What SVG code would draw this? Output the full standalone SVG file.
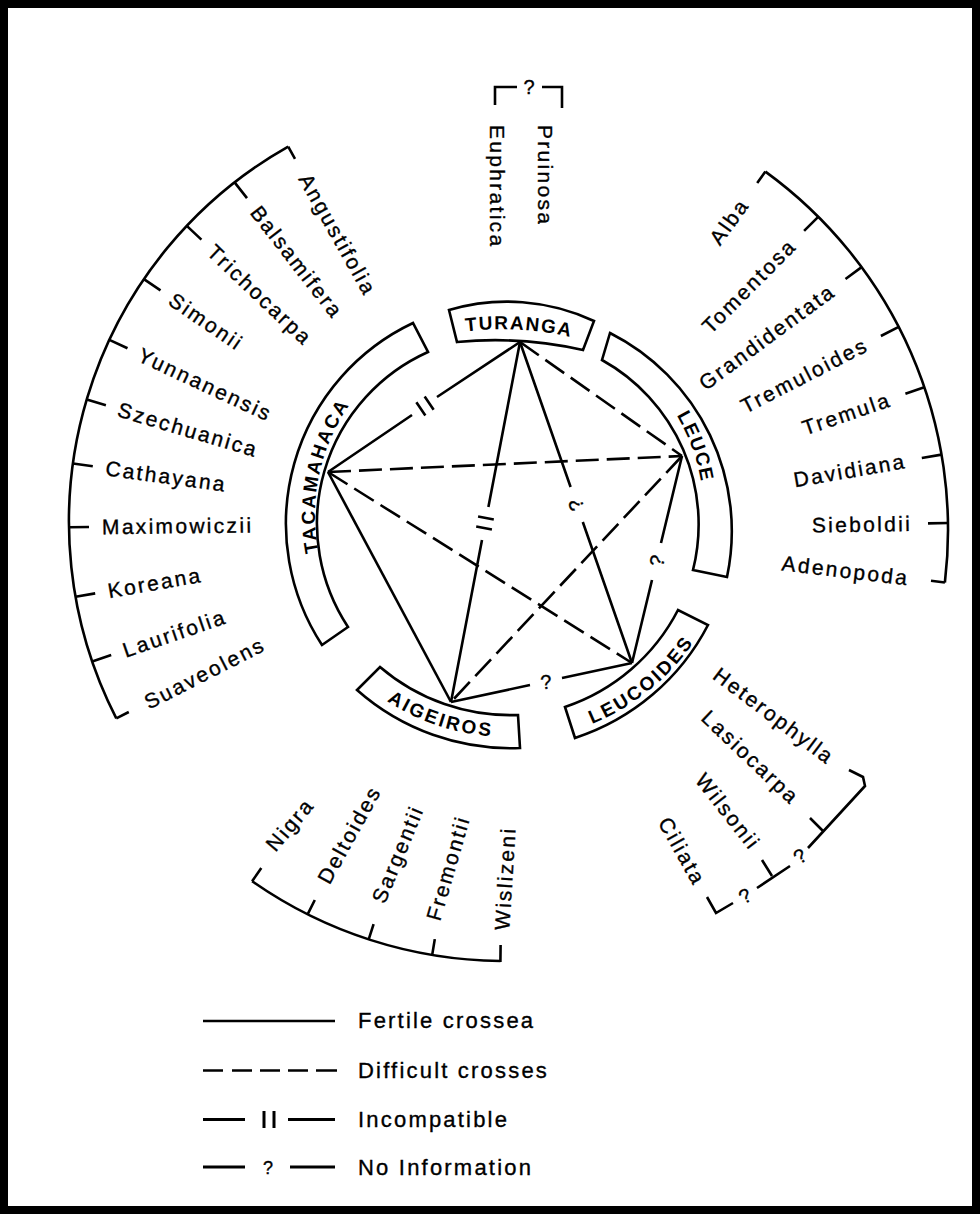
<svg xmlns="http://www.w3.org/2000/svg" width="980" height="1214" viewBox="0 0 980 1214">
<style>
.ln{stroke:#000;stroke-width:2.6;fill:none}
.dash{stroke-dasharray:23 8}
.box{fill:#fff;stroke:#000;stroke-width:2.6}
.lbl{font-family:"Liberation Sans",Arial,sans-serif;font-size:21px;letter-spacing:2.3px;fill:#000;stroke:#000;stroke-width:0.35}
.leg{font-family:"Liberation Sans",Arial,sans-serif;font-size:22px;letter-spacing:2.2px;fill:#000;stroke:#000;stroke-width:0.35}
.nd{font-family:"Liberation Sans",Arial,sans-serif;font-size:19px;font-weight:bold;letter-spacing:1.6px;fill:#000}
.q{font-family:"Liberation Sans",Arial,sans-serif;font-size:20px;fill:#000;stroke:#000;stroke-width:0.35}
</style>
<defs>
<path id="p-tur" d="M455,333 A300,300 0 0 1 582,340"/>
<path id="p-leu" d="M606,345.3 A196,196 0 0 1 701,549"/>
<path id="p-tac" d="M340.9,611.5 A193,193 0 0 1 411.5,347.9"/>
<path id="p-lcd" d="M468.9,736.6 A225,225 0 0 0 733,515"/>
<path id="p-aig" d="M315.7,626 A222,222 0 0 0 619,707.3"/>
</defs>
<rect x="0" y="0" width="980" height="1214" fill="#fff"/>
<rect x="4" y="4" width="972" height="1206" fill="none" stroke="#000" stroke-width="8"/>

<g id="connectors">
<path class="ln" d="M328,472 L451,702"/>
<path class="ln dash" d="M520,342 L682,456"/>
<path class="ln dash" d="M328,472 L682,456"/>
<path class="ln dash" d="M682,456 L451,702"/>
<path class="ln dash" d="M328,472 L632,663"/>
<path class="ln" d="M520,342 L437,397 M412,415 L328,472"/>
<g transform="translate(425,406) rotate(-34.1)"><path class="ln" d="M-5,-8 V8 M5,-8 V8"/></g>
<path class="ln" d="M520,342 L488.4,507 M482,540 L451,702"/>
<g transform="translate(485,523) rotate(-79.2)"><path class="ln" d="M-5,-8 V8 M5,-8 V8"/></g>
<path class="ln" d="M520,342 L570.6,487 M582.8,522 L632,663"/>
<text class="q" transform="translate(576,505) rotate(-109)" text-anchor="middle" dy="0.35em">?</text>
<path class="ln" d="M682,456 L661,543 M652,580 L632,663"/>
<text class="q" transform="translate(657,561) rotate(-76)" text-anchor="middle" dy="0.35em">?</text>
<path class="ln" d="M451,702 L530,685 M562,678 L632,663"/>
<text class="q" transform="translate(546,682) rotate(-6)" text-anchor="middle" dy="0.35em">?</text>
</g>

<g id="node-turanga">
<path class="box" d="M449,310 A205,205 0 0 1 594,321 L583,350 A400,400 0 0 0 457,342 Z"/>
<text class="nd"><textPath href="#p-tur" startOffset="50%" text-anchor="middle">TURANGA</textPath></text>
</g>
<g id="node-leuce">
<path class="box" d="M610,333 A222,222 0 0 1 727,577 L693,570 A188,188 0 0 0 602,360 Z"/>
<text class="nd"><textPath href="#p-leu" startOffset="57.1%" text-anchor="middle">LEUCE</textPath></text>
</g>
<g id="node-tacamahaca">
<path class="box" d="M413,323 A222,222 0 0 0 322,645 L348,627 A188,188 0 0 1 428,352 Z"/>
<text class="nd" style="letter-spacing:2px"><textPath href="#p-tac" startOffset="46.7%" text-anchor="middle">TACAMAHACA</textPath></text>
</g>
<g id="node-leucoides">
<path class="box" d="M678,610 A198,198 0 0 1 565,707 L575,738 A230,230 0 0 0 708,625 Z"/>
<text class="nd" style="letter-spacing:2.5px"><textPath href="#p-lcd" startOffset="48.9%" text-anchor="middle">LEUCOIDES</textPath></text>
</g>
<g id="node-aigeiros">
<path class="box" d="M380,667 A200,200 0 0 0 518,715 L520,748 A232,232 0 0 1 357,690 Z"/>
<text class="nd" style="letter-spacing:2.5px"><textPath href="#p-aig" startOffset="46.1%" text-anchor="middle">AIGEIROS</textPath></text>
</g>

<g id="group-turanga">
<path class="ln" d="M495,105 V87 H517 M542,87 H562 V108"/>
<text class="q" x="529" y="94" text-anchor="middle">?</text>
<text class="lbl" transform="translate(497,125) rotate(90)" dy="0.35em">Euphratica</text>
<text class="lbl" transform="translate(545,125) rotate(90)" dy="0.35em">Pruinosa</text>
</g>

<g id="group-tacamahaca">
<path class="ln" d="M288.2,146.6 A431,431 0 0 0 116.3,718.4"/>
<path class="ln" d="M288.2,146.6 L295,158.8 M234.6,182.4 L247,198.1 M186.8,225.9 L201.4,239.6 M143.9,279.1 L160.5,290.4 M109.4,339.9 L127.5,348.3 M86.8,399.6 L105.9,405.3 M73,463.5 L92.8,466.2 M69,527.3 L89,527 M75.6,596.8 L95.2,593.4 M92.2,661.6 L111.2,655.1 M116.3,718.4 L128.8,712"/>
<text class="lbl" transform="translate(304.4,175.4) rotate(60.56)" dy="0.35em">Angustifolia</text>
<text class="lbl" transform="translate(255,208.4) rotate(52)" dy="0.35em">Balsamifera</text>
<text class="lbl" transform="translate(210.8,248.5) rotate(43.4)" dy="0.35em">Trichocarpa</text>
<text class="lbl" transform="translate(171.2,297.7) rotate(34.3)" dy="0.35em">Simonii</text>
<text class="lbl" transform="translate(139.3,353.8) rotate(25)" dy="0.35em">Yunnanensis</text>
<text class="lbl" transform="translate(118.4,409) rotate(16.5)" dy="0.35em">Szechuanica</text>
<text class="lbl" transform="translate(105.7,468) rotate(7.8)" dy="0.35em">Cathayana</text>
<text class="lbl" transform="translate(102,526.9) rotate(-0.7)" dy="0.35em">Maximowiczii</text>
<text class="lbl" transform="translate(108,591.1) rotate(-10)" dy="0.35em">Koreana</text>
<text class="lbl" transform="translate(123.4,650.9) rotate(-18.9)" dy="0.35em">Laurifolia</text>
<text class="lbl" transform="translate(145.7,703.3) rotate(-27.1)" dy="0.35em">Suaveolens</text>
</g>

<g id="group-leuce">
<path class="ln" d="M765.4,171.6 A443,443 0 0 1 944.9,582.5"/>
<path class="ln" d="M765.4,171.6 L757.2,182.9 M818.2,216.8 L804.1,230.9 M861.6,267.1 L845.5,279 M898.7,326.8 L880.9,336 M924.3,387.2 L905.4,393.7 M941.5,454.6 L921.8,458 M947.9,523 L928,523.4 M944.9,582.5 L931,580.8"/>
<text class="lbl" text-anchor="end" transform="translate(744.2,200.7) rotate(-54)" dy="0.35em">Alba</text>
<text class="lbl" text-anchor="end" transform="translate(792.8,242.2) rotate(-45)" dy="0.35em">Tomentosa</text>
<text class="lbl" text-anchor="end" transform="translate(832.6,288.5) rotate(-36.4)" dy="0.35em">Grandidentata</text>
<text class="lbl" text-anchor="end" transform="translate(866.7,343.3) rotate(-27.3)" dy="0.35em">Tremuloides</text>
<text class="lbl" text-anchor="end" transform="translate(890.3,398.8) rotate(-18.8)" dy="0.35em">Tremula</text>
<text class="lbl" text-anchor="end" transform="translate(906.1,460.7) rotate(-9.8)" dy="0.35em">Davidiana</text>
<text class="lbl" text-anchor="end" transform="translate(912,523.6) rotate(-0.9)" dy="0.35em">Sieboldii</text>
<text class="lbl" text-anchor="end" transform="translate(909.2,578.2) rotate(6.8)" dy="0.35em">Adenopoda</text>
</g>

<g id="group-leucoides">
<path class="ln" d="M849,770 L863,777 L865,786 L808,848 M823,831 L810,818 M790,866 L757,888 M772,876 L762,860 M733,903 L716,913 L707,897"/>
<text class="q" transform="translate(800,856) rotate(-35)" text-anchor="middle" dy="0.35em">?</text>
<text class="q" transform="translate(745,896) rotate(-30)" text-anchor="middle" dy="0.35em">?</text>
<text class="lbl" transform="translate(716,672) rotate(37)" dy="0.35em">Heterophylla</text>
<text class="lbl" transform="translate(705,714) rotate(43.5)" dy="0.35em">Lasiocarpa</text>
<text class="lbl" transform="translate(700,776) rotate(51.8)" dy="0.35em">Wilsonii</text>
<text class="lbl" transform="translate(664,819) rotate(60.5)" dy="0.35em">Ciliata</text>
</g>

<g id="group-aigeiros">
<path class="ln" d="M252.1,881.2 A441,441 0 0 0 500.4,961"/>
<path class="ln" d="M252.1,881.2 L261.3,868.1 M307.6,914.3 L314.8,900 M368.7,939.4 L373.6,924.2 M432.2,954.9 L434.8,939.1 M500.4,962 L500.6,945"/>
<text class="lbl" transform="translate(270,848) rotate(-49.8)" dy="0.35em">Nigra</text>
<text class="lbl" transform="translate(323,882) rotate(-61)" dy="0.35em">Deltoides</text>
<text class="lbl" transform="translate(378,902) rotate(-67.6)" dy="0.35em">Sargentii</text>
<text class="lbl" transform="translate(433,920) rotate(-73.8)" dy="0.35em">Fremontii</text>
<text class="lbl" transform="translate(502,930) rotate(-86.5)" dy="0.35em">Wislizeni</text>
</g>

<g id="legend">
<path class="ln" d="M203,1021 H335"/>
<text class="leg" x="358" y="1028">Fertile crossea</text>
<path class="ln" d="M203,1070.5 H223 M232,1070.5 H252 M260,1070.5 H280 M288,1070.5 H308 M316,1070.5 H337"/>
<text class="leg" x="358" y="1078">Difficult crosses</text>
<path class="ln" style="stroke-width:3" d="M203,1119.5 H245 M288,1119.5 H335"/>
<path class="ln" style="stroke-width:3" d="M264,1111 V1128 M274,1111 V1128"/>
<text class="leg" x="358" y="1127">Incompatible</text>
<path class="ln" style="stroke-width:3" d="M203,1167 H245 M290,1167 H335"/>
<text class="q" x="268" y="1174" text-anchor="middle" style="font-size:18px">?</text>
<text class="leg" x="358" y="1175">No Information</text>
</g>
</svg>
